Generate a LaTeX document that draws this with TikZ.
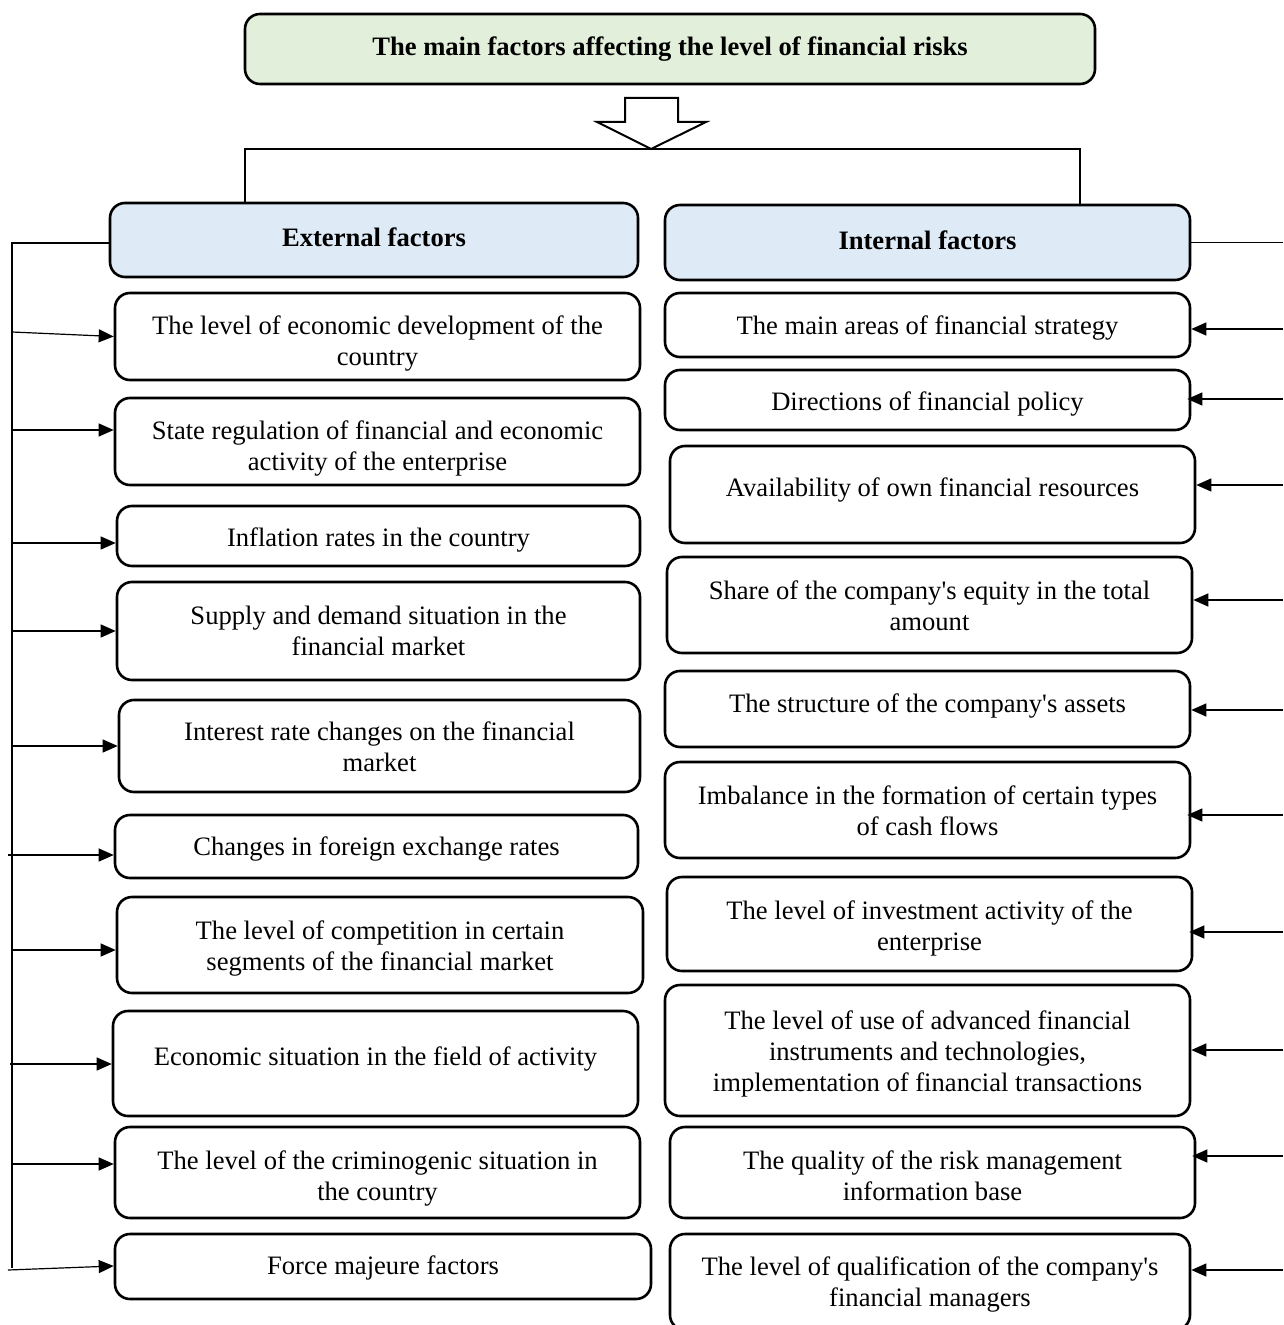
\documentclass[tikz,border=0pt]{standalone}
\usepackage{fontspec}
\setmainfont{Liberation Serif}
\usetikzlibrary{arrows.meta,calc}
\definecolor{titlefill}{HTML}{E2EFDA}
\definecolor{headfill}{HTML}{DEEAF6}
\newcommand\apo{\textquotesingle}
% #1 name, #2 x, #3 y, #4 w, #5 h, #6 text shift (px, down), #7 text
\newcommand\factorbox[7]{%
  \node[box, sz={#4}{#5}] (#1) at (#2,#3) {};
  \node[txt] (#1t) at ($(#1.center)+(0,#6)$) {#7};}
\begin{document}
\begin{tikzpicture}[x=0.5pt,y=-0.5pt,
  sz/.style 2 args={minimum width=#1*0.5pt, minimum height=#2*0.5pt},
  box/.style={draw, line width=1.3pt, rounded corners=7.5pt, inner sep=0pt},
  txt/.style={align=center, inner sep=0pt, font=\fontsize{13.3}{15.5}\selectfont},
  btxt/.style={txt, font=\fontsize{13.3}{15.5}\selectfont\bfseries},
  conn/.style={line width=0.6pt},
  arr/.style={conn, -{Triangle[length=7.5pt,width=6.5pt]}}]
\useasboundingbox (0,0) rectangle (1283,1325);

% title
\node[box, fill=titlefill, sz={850}{70}] (title) at (670,49) {};
\node[btxt] (titlet) at ($(title.center)+(0,0)$) {The main factors affecting the level of financial risks};

% hollow block arrow
\draw[line width=1pt, fill=white] (625,98) -- (678,98) -- (678,122) -- (706,122) -- (651,149)
  -- (597,122) -- (625,122) -- cycle;

% headers
\node[box, fill=headfill, sz={528}{74}] (ext) at (374,240) {};
\node[btxt] (extt) at ($(ext.center)+(0,-3)$) {External factors};
\node[box, fill=headfill, sz={525}{75}] (int) at (927.5,242.5) {};
\node[btxt] (intt) at ($(int.center)+(0,-2)$) {Internal factors};

% split line
\coordinate (sl) at (245,149);
\coordinate (sr) at (1080,149);
\draw[conn] (ext.north -| sl) -- (sl) -- (sr) -- (sr |- int.north);

% external boxes
\factorbox{e1}{377.5}{336.5}{525}{87}{7}{The level of economic development of the\\country}
\factorbox{e2}{377.5}{441.5}{525}{87}{7}{State regulation of financial and economic\\activity of the enterprise}
\factorbox{e3}{378.5}{536}{523}{60}{4}{Inflation rates in the country}
\factorbox{e4}{378.5}{631}{523}{98}{0}{Supply and demand situation in the\\financial market}
\factorbox{e5}{379.5}{746}{521}{92}{1}{Interest rate changes on the financial\\market}
\factorbox{e6}{376.5}{846.5}{523}{63}{2}{Changes in foreign exchange rates}
\factorbox{e7}{380}{945}{526}{96}{3}{The level of competition in certain\\segments of the financial market}
\factorbox{e8}{375.5}{1063.5}{525}{105}{-5}{Economic situation in the field of activity}
\factorbox{e9}{377.5}{1172.5}{525}{91}{6}{The level of the criminogenic situation in\\the country}
\factorbox{e10}{383}{1266.5}{536}{65}{1}{Force majeure factors}

% internal boxes
\factorbox{i1}{927.5}{325}{525}{64}{3}{The main areas of financial strategy}
\factorbox{i2}{927.5}{400}{525}{60}{4}{Directions of financial policy}
\factorbox{i3}{932.5}{494.5}{525}{97}{-4}{Availability of own financial resources}
\factorbox{i4}{929.5}{605}{525}{96}{1}{Share of the company\apo s equity in the total\\amount}
\factorbox{i5}{927.5}{709}{525}{76}{-3}{The structure of the company\apo s assets}
\factorbox{i6}{927.5}{810}{525}{96}{1}{Imbalance in the formation of certain types\\of cash flows}
\factorbox{i7}{929.5}{924}{525}{94}{4}{The level of investment activity of the\\enterprise}
\factorbox{i8}{927.5}{1050.5}{525}{131}{3}{The level of use of advanced financial\\instruments and technologies,\\implementation of financial transactions}
\factorbox{i9}{932.5}{1172.5}{525}{91}{3}{The quality of the risk management\\information base}
\factorbox{i10}{930}{1282}{520}{96}{2}{The level of qualification of the company\apo s\\financial managers}

% left trunk
\coordinate (lt) at (12,243);
\coordinate (lb) at (12,1268);
\draw[conn] (ext.west |- lt) -- (lt) -- (lb);
\draw[arr] (lt |- 0,332) -- (e1.west);
\draw[arr] (lt |- 0,430) -- (e2.west |- 0,430);
\draw[arr] (lt |- 0,543) -- (e3.west |- 0,543);
\draw[arr] (lt |- 0,631) -- (e4.west |- 0,631);
\draw[arr] (lt |- 0,746) -- (e5.west |- 0,746);
\draw[arr] ([xshift=-2pt]lt |- 0,855) -- (e6.west |- 0,855);
\draw[arr] (lt |- 0,950) -- (e7.west |- 0,950);
\draw[arr] ([xshift=-1pt]lt |- 0,1064) -- (e8.west |- 0,1064);
\draw[arr] (lt |- 0,1164) -- (e9.west |- 0,1164);
\draw[arr] ([xshift=-2pt]lt |- 0,1270) -- (e10.west |- 0,1266);

% right trunk
\coordinate (rt) at (1283,242.5);
\draw[conn] (int.east) -- (rt);
\draw[arr] (rt |- 0,329) -- (i1.east |- 0,329);
\draw[arr] (rt |- 0,399) -- ([xshift=-2pt]i2.east |- 0,399);
\draw[arr] (rt |- 0,485) -- (i3.east |- 0,485);
\draw[arr] (rt |- 0,600) -- (i4.east |- 0,600);
\draw[arr] (rt |- 0,710) -- (i5.east |- 0,710);
\draw[arr] (rt |- 0,815) -- ([xshift=-2pt]i6.east |- 0,815);
\draw[arr] (rt |- 0,932) -- ([xshift=-2pt]i7.east |- 0,932);
\draw[arr] (rt |- 0,1050) -- (i8.east |- 0,1050);
\draw[arr] (rt |- 0,1156) -- ([xshift=-2pt]i9.east |- 0,1156);
\draw[arr] (rt |- 0,1270) -- (i10.east |- 0,1270);
\end{tikzpicture}
\end{document}
